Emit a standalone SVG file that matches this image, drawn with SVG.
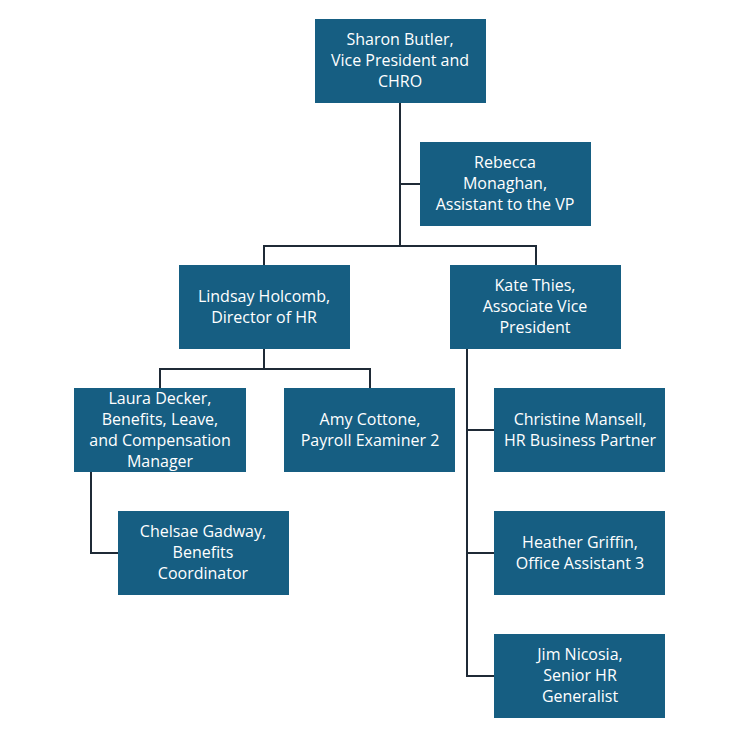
<svg xmlns="http://www.w3.org/2000/svg" width="754" height="736" viewBox="0 0 754 736">
<style>
.b{fill:#165e82}
.t{fill:#fff;font-family:"Open Sans","Liberation Sans",sans-serif;font-size:16px;text-anchor:middle}
.c{fill:none;stroke:#1f2a36;stroke-width:2}
</style>
<rect width="754" height="736" fill="#fff"/>
<g id="connectors">
<path class="c" d="M400 103V246M400 184H420M264 265V246H536V265"/>
<path class="c" d="M264 349V369M160 388V369H370V388M91 472V553H118"/>
<path class="c" d="M467 349V676H494M467 430H494M467 553H494"/>
</g>
<g id="sharon"><rect class="b" x="315" y="19" width="171" height="84"/><text class="t" x="400" y="45">Sharon Butler,</text><text class="t" x="400" y="66">Vice President and</text><text class="t" x="400" y="87">CHRO</text></g>
<g id="rebecca"><rect class="b" x="420" y="142" width="171" height="84"/><text class="t" x="505" y="168">Rebecca</text><text class="t" x="505" y="189">Monaghan,</text><text class="t" x="505" y="210">Assistant to the VP</text></g>
<g id="lindsay"><rect class="b" x="179" y="265" width="171" height="84"/><text class="t" x="264" y="302">Lindsay Holcomb,</text><text class="t" x="264" y="323">Director of HR</text></g>
<g id="kate"><rect class="b" x="450" y="265" width="171" height="84"/><text class="t" x="535" y="291">Kate Thies,</text><text class="t" x="535" y="312">Associate Vice</text><text class="t" x="535" y="333">President</text></g>
<g id="laura"><rect class="b" x="74" y="388" width="172" height="84"/><text class="t" x="160" y="404">Laura Decker,</text><text class="t" x="160" y="425">Benefits, Leave,</text><text class="t" x="160" y="446">and Compensation</text><text class="t" x="160" y="467">Manager</text></g>
<g id="amy"><rect class="b" x="284" y="388" width="171" height="84"/><text class="t" x="370" y="425">Amy Cottone,</text><text class="t" x="370" y="446">Payroll Examiner 2</text></g>
<g id="christine"><rect class="b" x="494" y="388" width="171" height="84"/><text class="t" x="580" y="425">Christine Mansell,</text><text class="t" x="580" y="446">HR Business Partner</text></g>
<g id="chelsae"><rect class="b" x="118" y="511" width="171" height="84"/><text class="t" x="203" y="537">Chelsae Gadway,</text><text class="t" x="203" y="558">Benefits</text><text class="t" x="203" y="579">Coordinator</text></g>
<g id="heather"><rect class="b" x="494" y="511" width="171" height="84"/><text class="t" x="580" y="548">Heather Griffin,</text><text class="t" x="580" y="569">Office Assistant 3</text></g>
<g id="jim"><rect class="b" x="494" y="634" width="171" height="84"/><text class="t" x="580" y="660">Jim Nicosia,</text><text class="t" x="580" y="681">Senior HR</text><text class="t" x="580" y="702">Generalist</text></g>
</svg>
